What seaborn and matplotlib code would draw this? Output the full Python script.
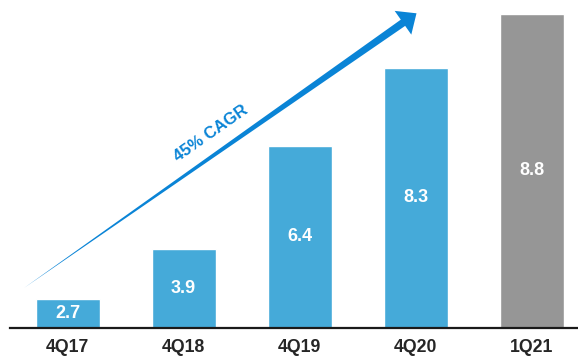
import numpy as np
import pandas as pd
import seaborn as sns
import matplotlib.pyplot as plt
from matplotlib.patches import Polygon

quarters = ['4Q17', '4Q18', '4Q19', '4Q20', '1Q21']
values = [2.7, 3.9, 6.4, 8.3, 8.8]
# heights as drawn in the original (1Q21 bar is drawn taller than the common scale)
bar_heights = [2.7, 3.9, 6.4, 8.3, 9.6]
bar_colors = ['#45aad9', '#45aad9', '#45aad9', '#45aad9', '#969696']
cagr_text = '45% CAGR'

df = pd.DataFrame({'quarter': quarters, 'height': bar_heights})

sns.set_theme(style='white')
plt.rcParams['font.family'] = ['Liberation Sans', 'DejaVu Sans']

W, H = 578, 356
fig = plt.figure(figsize=(W / 100, H / 100), dpi=100)
ax = fig.add_axes([10 / W, 28.5 / H, 568 / W, 327.5 / H])

sns.barplot(data=df, x='quarter', y='height', hue='quarter', palette=bar_colors,
            width=0.55, saturation=1, legend=False, ax=ax)

ymin = 2.0
ax.set_xlim(-0.497, 4.399)
ax.set_ylim(ymin, 9.94)

# value labels, centred in the visible part of each bar
for i, (h, v) in enumerate(zip(bar_heights, values)):
    ax.text(i, (ymin + h) / 2, f'{v}', ha='center', va='center', color='white',
            fontsize=13, fontweight='bold')

ax.set_xlabel('')
ax.set_ylabel('')
ax.set_yticks([])
ax.tick_params(axis='x', length=0, pad=8, labelsize=12.7, labelcolor='#262626')
for lab in ax.get_xticklabels():
    lab.set_fontweight('bold')

sns.despine(ax=ax, left=True)
ax.spines['bottom'].set_color('#1a1a1a')
ax.spines['bottom'].set_linewidth(1.6)

# tapered growth arrow (figure pixel coords, y from top)
tail = np.array([24.0, 288.0])
tip = np.array([416.5, 13.3])
u = (tip - tail) / np.linalg.norm(tip - tail)
n = np.array([-u[1], u[0]])
base = tip - u * 16.5
pts = [tail, base + n * 3.8, base + n * 14.5, tip, base - n * 14.5, base - n * 3.8]
pts = [(p[0] / W, 1 - p[1] / H) for p in pts]
fig.patches.append(Polygon(pts, closed=True, facecolor='#0a84d6', edgecolor='none',
                           transform=fig.transFigure))

fig.text(211 / W, 1 - 133 / H, cagr_text, rotation=35, ha='center', va='center',
         rotation_mode='anchor', color='#0a84d6', fontsize=12, fontweight='bold')

fig.savefig('out.png', dpi=100)
